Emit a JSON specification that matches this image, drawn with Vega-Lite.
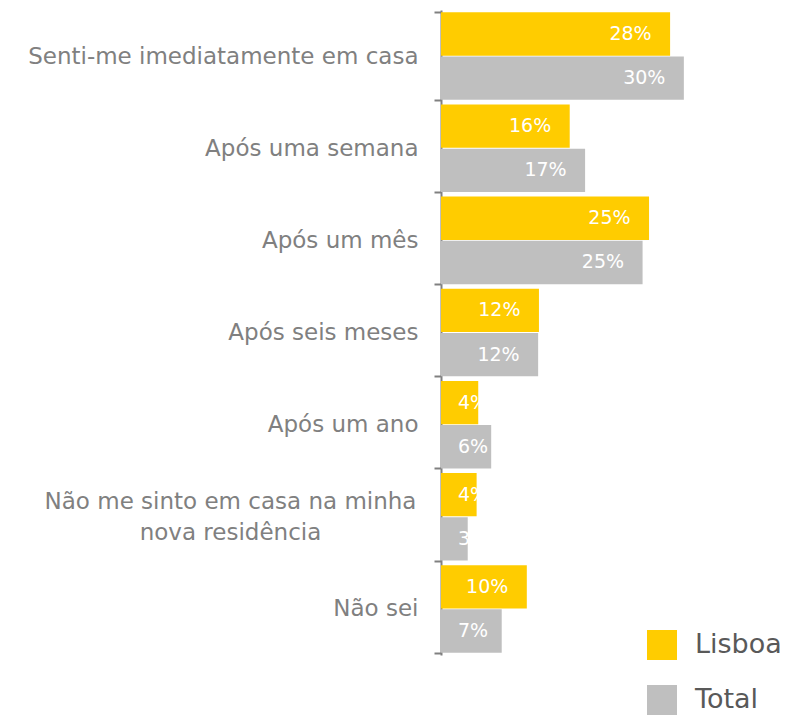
{
  "$schema": "https://vega.github.io/schema/vega-lite/v6.json",
  "width": 340,
  "height": 645,
  "autosize": "none",
  "padding": {"left": 441, "top": 10, "right": 4, "bottom": 60},
  "background": "white",
  "config": {"view": {"stroke": null}, "font": "DejaVu Sans"},
  "data": {
    "values": [
      {"cat": "Senti-me imediatamente em casa", "series": "Lisboa", "value": 28.3, "label": "28%"},
      {"cat": "Senti-me imediatamente em casa", "series": "Total", "value": 30, "label": "30%"},
      {"cat": "Após uma semana", "series": "Lisboa", "value": 15.9, "label": "16%"},
      {"cat": "Após uma semana", "series": "Total", "value": 17.8, "label": "17%"},
      {"cat": "Após um mês", "series": "Lisboa", "value": 25.7, "label": "25%"},
      {"cat": "Após um mês", "series": "Total", "value": 24.9, "label": "25%"},
      {"cat": "Após seis meses", "series": "Lisboa", "value": 12.1, "label": "12%"},
      {"cat": "Após seis meses", "series": "Total", "value": 12, "label": "12%"},
      {"cat": "Após um ano", "series": "Lisboa", "value": 4.6, "label": "4%"},
      {"cat": "Após um ano", "series": "Total", "value": 6.2, "label": "6%"},
      {"cat": "Não me sinto em casa na minha nova residência", "series": "Lisboa", "value": 4.4, "label": "4%"},
      {"cat": "Não me sinto em casa na minha nova residência", "series": "Total", "value": 3.3, "label": "3%"},
      {"cat": "Não sei", "series": "Lisboa", "value": 10.6, "label": "10%"},
      {"cat": "Não sei", "series": "Total", "value": 7.5, "label": "7%"}
    ]
  },
  "transform": [
    {"calculate": "max(datum.value - 2.1 - 1.8 * length(datum.label), 2.1)", "as": "lx"}
  ],
  "encoding": {
    "y": {
      "field": "cat",
      "type": "nominal",
      "sort": null,
      "scale": {"paddingInner": 0.05, "paddingOuter": 0.025},
      "axis": {
        "title": null,
        "domainColor": "#808080",
        "domainWidth": 2,
        "tickColor": "#808080",
        "tickWidth": 2,
        "tickSize": 7,
        "tickBand": "extent",
        "labelPadding": {"condition": {"test": "datum.value == 'Não me sinto em casa na minha nova residência'", "value": 204}, "value": 16},
        "labelAlign": {"condition": {"test": "datum.value == 'Não me sinto em casa na minha nova residência'", "value": "center"}, "value": "right"},
        "labelOffset": {"condition": {"test": "datum.value == 'Não me sinto em casa na minha nova residência'", "value": -15}, "value": 0},
        "labelFontSize": 23,
        "labelColor": "#808080",
        "labelLimit": 500,
        "labelLineHeight": 31,
        "labelExpr": "datum.value == 'Não me sinto em casa na minha nova residência' ? ['Não me sinto em casa na minha', 'nova residência'] : datum.value"
      }
    },
    "yOffset": {"field": "series", "type": "nominal", "sort": ["Lisboa", "Total"], "scale": {"paddingInner": 0.02}}
  },
  "layer": [
    {
      "mark": {"type": "bar"},
      "encoding": {
        "x": {"field": "value", "type": "quantitative", "scale": {"domain": [0, 42], "nice": false}, "axis": null},
        "color": {
          "field": "series",
          "type": "nominal",
          "scale": {"domain": ["Lisboa", "Total"], "range": ["#FFCC00", "#BFBFBF"]},
          "legend": {
            "title": null,
            "orient": "none",
            "legendX": 206,
            "legendY": 620,
            "symbolType": "square",
            "symbolSize": 900,
            "symbolStrokeWidth": 0,
            "labelFontSize": 27,
            "labelColor": "#595959",
            "labelOffset": 18,
            "rowPadding": 25
          }
        }
      }
    },
    {
      "mark": {"type": "text", "align": "left", "baseline": "middle", "fontSize": 19, "color": "white"},
      "encoding": {
        "x": {"field": "lx", "type": "quantitative"},
        "text": {"field": "label"}
      }
    }
  ]
}
